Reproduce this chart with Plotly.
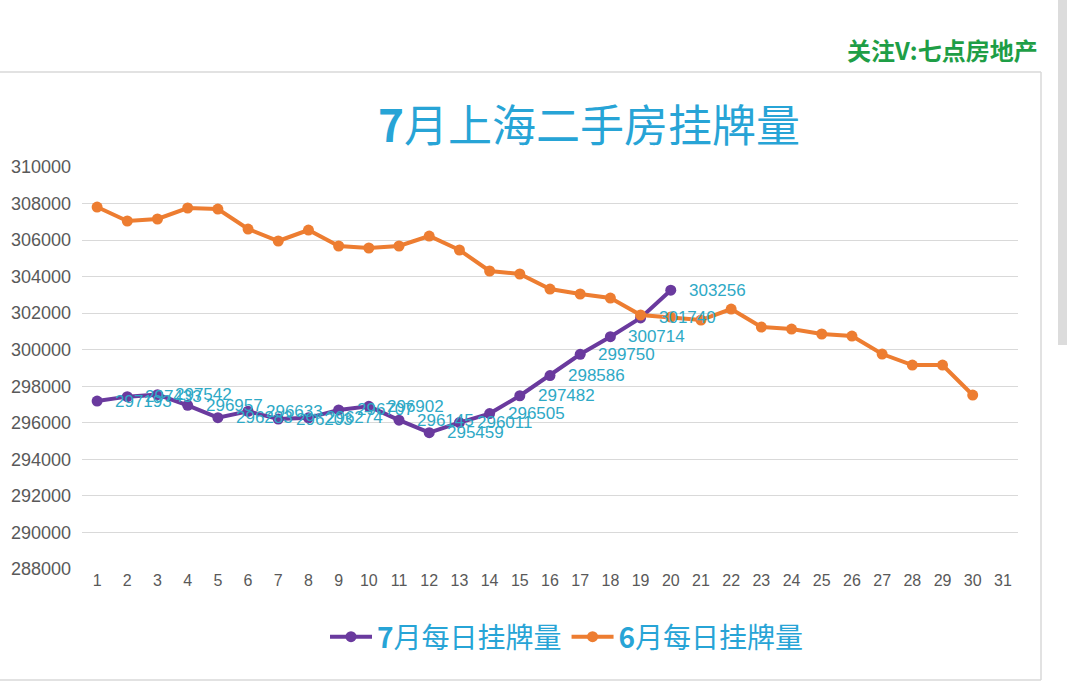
import plotly.graph_objects as go

days = list(range(1, 32))
tick_labels = [str(d) for d in days]
july_days = list(range(1, 21))
july_values = [297193, 297433, 297542, 296957, 296283, 296633, 296203, 296274, 296707, 296902,
               296145, 295459, 296011, 296505, 297482, 298586, 299750, 300714, 301740, 303256]
june_days = list(range(1, 31))
june_values = [307810, 307045, 307154, 307756, 307700, 306606, 305950, 306550, 305676, 305567,
               305676, 306223, 305457, 304308, 304144, 303322, 303049, 302830, 301900, 301790,
               301626, 302228, 301240, 301130, 300860, 300750, 299765, 299163, 299163, 297520]
y_ticks = list(range(288000, 310001, 2000))

W, H = 1080, 687
L, R, T, B = 82, 62, 167, 118
pw, ph = W - L - R, H - T - B


def px(x):
    return (x - L) / pw


def py(y):
    return (H - B - y) / ph


CJK = "Noto Sans CJK SC, Arial, sans-serif"
NUM = "Arial, Liberation Sans, sans-serif"
PURPLE = "#6A3A9E"
ORANGE = "#ED7D31"
LABEL = "#2EA9C6"
TITLE = "#27A4D6"

fig = go.Figure()
fig.add_trace(go.Scatter(
    x=july_days, y=july_values, mode="lines+markers",
    name="<b>7</b>月每日挂牌量",
    line=dict(color=PURPLE, width=4), marker=dict(color=PURPLE, size=11),
))
fig.add_trace(go.Scatter(
    x=june_days, y=june_values, mode="lines+markers",
    name="<b>6</b>月每日挂牌量",
    line=dict(color=ORANGE, width=4), marker=dict(color=ORANGE, size=11),
))

shapes = [
    dict(type="line", xref="paper", yref="paper", x0=px(0), x1=px(1041), y0=py(72), y1=py(72),
         line=dict(color="#d9d9d9", width=1.5)),
    dict(type="line", xref="paper", yref="paper", x0=px(1041), x1=px(1041), y0=py(72), y1=py(680),
         line=dict(color="#d9d9d9", width=1.5)),
    dict(type="line", xref="paper", yref="paper", x0=px(0), x1=px(1041), y0=py(680), y1=py(680),
         line=dict(color="#d9d9d9", width=1.5)),
    dict(type="rect", xref="paper", yref="paper", x0=px(1058), x1=px(1067), y0=py(345), y1=py(0),
         fillcolor="#dcdcdc", line=dict(width=0)),
]

annotations = [
    dict(text="<b>7</b>月上海二手房挂牌量", xref="paper", yref="paper", x=px(589), y=py(123),
         xanchor="center", yanchor="middle", showarrow=False,
         font=dict(family=CJK, size=44, color=TITLE)),
    dict(text="<b>关注V:七点房地产</b>", xref="paper", yref="paper", x=px(1040), y=py(50),
         xanchor="right", yanchor="middle", showarrow=False,
         font=dict(family=CJK, size=24, color="#1E9E46")),
]
for d, v in zip(july_days, july_values):
    annotations.append(dict(text=str(v), x=d, y=v, xref="x", yref="y", xanchor="left",
                            yanchor="middle", xshift=16, showarrow=False,
                            font=dict(family=NUM, size=17, color=LABEL)))

fig.update_layout(
    width=W, height=H,
    margin=dict(l=L, r=R, t=T, b=B),
    paper_bgcolor="white", plot_bgcolor="white",
    showlegend=True,
    legend=dict(orientation="h", x=px(567), y=py(637), xanchor="center", yanchor="middle",
                font=dict(family=CJK, size=28, color=TITLE), itemwidth=42),
    shapes=shapes, annotations=annotations,
    xaxis=dict(range=[0.5, 31.5], tickmode="array", tickvals=days, ticktext=tick_labels,
               showgrid=False, zeroline=False, showline=False, ticks="",
               tickfont=dict(family=NUM, size=16, color="#595959")),
    yaxis=dict(range=[288000, 310000], tickmode="array", tickvals=y_ticks,
               ticktext=[str(v) for v in y_ticks],
               showgrid=True, gridcolor="#d9d9d9", gridwidth=1, zeroline=False, showline=False,
               ticks="", ticklabelstandoff=10,
               tickfont=dict(family=NUM, size=18, color="#595959")),
)

fig.write_html("out.html", config={"displayModeBar": False},
               post_script="document.body.style.margin='0';document.body.style.overflow='hidden';")
